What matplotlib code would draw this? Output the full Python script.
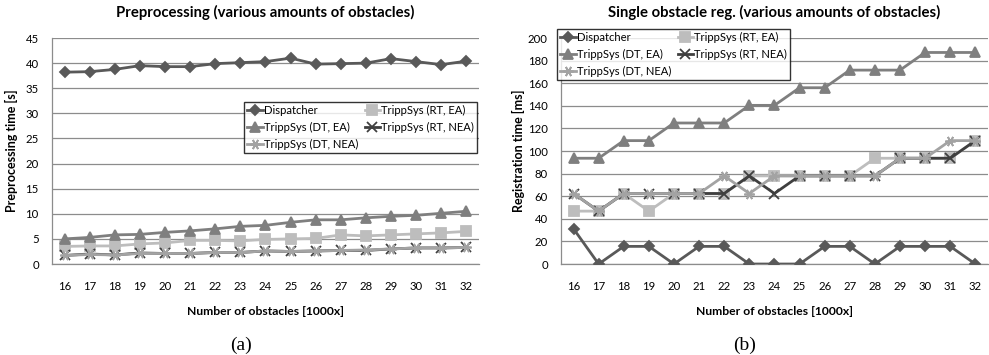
import matplotlib
matplotlib.use("Agg")
import matplotlib.pyplot as plt
import numpy as np

plt.rcParams['font.family'] = ['Lato', 'DejaVu Sans']

# ---------------------------------------  Data  ---------------------------------------
obstacles = list(range(16, 33))

# (a) preprocessing time [s]
pre_dispatcher = [38.2, 38.3, 38.75, 39.5, 39.3, 39.3, 39.9, 40.1, 40.3, 41.0, 39.8, 39.9, 40.0, 40.9, 40.3, 39.7, 40.4]
pre_rt_ea = [3.5, 3.6, 3.6, 4.0, 4.2, 4.7, 4.7, 4.6, 4.9, 5.0, 5.1, 5.8, 5.6, 5.8, 6.0, 6.2, 6.5]
pre_dt_ea = [5.0, 5.3, 5.8, 5.9, 6.3, 6.6, 7.0, 7.5, 7.7, 8.3, 8.8, 8.8, 9.2, 9.5, 9.7, 10.1, 10.5]
pre_rt_nea = [1.7, 2.0, 1.8, 2.2, 2.1, 2.1, 2.3, 2.3, 2.6, 2.5, 2.6, 2.7, 2.7, 3.0, 3.2, 3.2, 3.3]
pre_dt_nea = [1.7, 1.9, 1.8, 2.1, 2.1, 2.1, 2.3, 2.3, 2.6, 2.5, 2.6, 2.7, 2.8, 3.0, 3.2, 3.2, 3.3]

# (b) single obstacle registration time [ms]
reg_dispatcher = [31.2, 0, 15.6, 15.6, 0, 15.6, 15.6, 0, 0, 0, 15.6, 15.6, 0, 15.6, 15.6, 15.6, 0]
reg_rt_ea = [46.8, 46.8, 62.4, 46.8, 62.4, 62.4, 62.4, 78, 78, 78, 78, 78, 93.6, 93.6, 93.6, 93.6, 109.2]
reg_dt_ea = [93.6, 93.6, 109.2, 109.2, 124.8, 124.8, 124.8, 140.4, 140.4, 156, 156, 171.6, 171.6, 171.6, 187.2, 187.2, 187.2]
reg_rt_nea = [62.4, 46.8, 62.4, 62.4, 62.4, 62.4, 62.4, 78, 62.4, 78, 78, 78, 78, 93.6, 93.6, 93.6, 109.2]
reg_dt_nea = [62.4, 46.8, 62.4, 62.4, 62.4, 62.4, 78, 62.4, 78, 78, 78, 78, 78, 93.6, 93.6, 109.2, 109.2]

labels = ['Dispatcher', 'TrippSys (RT, EA)', 'TrippSys (DT, EA)', 'TrippSys (RT, NEA)', 'TrippSys (DT, NEA)']
colors = ['#595959', '#bdbdbd', '#7f7f7f', '#3f3f3f', '#a3a3a3']
markers = ['D', 's', '^', 'x', (6, 2, 90)]
msizes = [5, 7, 7, 6.5, 7.5]

fig = plt.figure(figsize=(9.89, 3.55), dpi=100)
ax1 = fig.add_axes([0.0526, 0.2563, 0.4317, 0.6366])
ax2 = fig.add_axes([0.5672, 0.2563, 0.4317, 0.6366])


def draw(ax, series, ymax, ystep, title, ylabel, ylabelpad):
    handles = []
    for vals, lab, c, m, ms in zip(series, labels, colors, markers, msizes):
        h, = ax.plot(obstacles, vals, color=c, marker=m, markersize=ms, lw=2.0,
                     markeredgewidth=1.3, label=lab, zorder=3)
        handles.append(h)
    ax.set_xlim(15.5, 32.5)
    ax.set_ylim(0, ymax)
    ax.set_yticks(np.arange(0, ymax + 1, ystep))
    ax.set_xticks(obstacles)
    ax.yaxis.grid(True, color='#8c8c8c', lw=0.9)
    ax.set_axisbelow(True)
    for s in ['top', 'right']:
        ax.spines[s].set_visible(False)
    for s in ['left', 'bottom']:
        ax.spines[s].set_color('#8c8c8c')
        ax.spines[s].set_linewidth(0.9)
    ax.tick_params(axis='x', length=0, pad=12.5, labelsize=8.2)
    ax.tick_params(axis='y', length=0, pad=9.5, labelsize=8.2)
    ax.set_title(title, fontsize=10.7, fontweight='bold', pad=15)
    ax.set_ylabel(ylabel, fontsize=9, fontweight='bold', labelpad=ylabelpad)
    ax.set_xlabel('Number of obstacles [1000x]', fontsize=8.7, fontweight='bold', labelpad=10)
    return handles


h1 = draw(ax1, [pre_dispatcher, pre_rt_ea, pre_dt_ea, pre_rt_nea, pre_dt_nea], 45, 5,
          'Preprocessing (various amounts of obstacles)', 'Preprocessing time [s]', 5.5)
h2 = draw(ax2, [reg_dispatcher, reg_rt_ea, reg_dt_ea, reg_rt_nea, reg_dt_nea], 200, 20,
          'Single obstacle reg. (various amounts of obstacles)', 'Registration time [ms]', 2)

order = [0, 2, 4, 1, 3]
for hs, anchor in [(h1, (0.2467, 0.7127)), (h2, (0.5632, 0.9183))]:
    leg = fig.legend([hs[i] for i in order], [labels[i] for i in order], ncol=2,
                     loc='upper left', bbox_to_anchor=anchor,
                     fontsize=8.1, frameon=True, fancybox=False,
                     handlelength=1.35, handletextpad=0.1, columnspacing=0.6,
                     labelspacing=0.5, borderpad=0.3, borderaxespad=0)
    leg.get_frame().set_edgecolor('black')
    leg.get_frame().set_linewidth(1.0)

fig.text(0.2437, 0.028, '(a)', family='Liberation Serif', fontsize=14, ha='center', va='center')
fig.text(0.7533, 0.028, '(b)', family='Liberation Serif', fontsize=14, ha='center', va='center')

fig.savefig('out.png', dpi=100)
